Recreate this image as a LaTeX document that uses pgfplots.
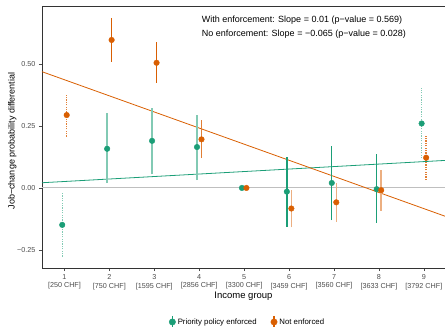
\documentclass[border=0pt]{standalone}
\usepackage{pgfplots}
\pgfplotsset{compat=1.18}
\usepackage{fontspec}
\setmainfont{Liberation Sans}
\definecolor{grn}{HTML}{1B9E77}
\definecolor{org}{HTML}{D95F02}
\colorlet{grnL}{grn!55!white}
\colorlet{orgL}{org!50!white}
\colorlet{orgM}{org!80!white}
\definecolor{tickgray}{HTML}{4D4D4D}
\begin{document}
\begin{tikzpicture}[x=1pt,y=1pt]
\useasboundingbox (0,0) rectangle (445,327);
\begin{axis}[
  at={(42pt,59pt)}, anchor=south west, scale only axis,
  width=403pt, height=262pt,
  xmin=0.5, xmax=9.47, ymin=-0.323, ymax=0.734,
  axis line style={draw=black!80, line width=0.9pt},
  unbounded coords=jump,
  clip=true,
  /pgf/number format/assume math mode=true,
  xtick={1,2,3,4,5,6,7,8,9},
  xticklabels={1\\{[250 CHF]},2\\{[750 CHF]},3\\{[1595 CHF]},4\\{[2856 CHF]},5\\{[3300 CHF]},6\\{[3459 CHF]},7\\{[3560 CHF]},8\\{[3633 CHF]},9\\{[3792 CHF]}},
  xticklabel style={align=center, font=\fontsize{7.2}{8.5}\selectfont, text=tickgray},
  ytick={-0.25,0,0.25,0.5},
  yticklabels={−0.25,0.00,0.25,0.50},
  yticklabel style={font=\fontsize{7.2}{8.5}\selectfont, text=tickgray},
  tick align=outside, major tick length=3pt,
  tick style={black!70, line width=0.6pt},
  xtick pos=bottom, ytick pos=left,
  xlabel={Income group},
  ylabel={Job−change probability differential},
  xlabel style={font=\fontsize{9.5}{11}\selectfont, at={(axis description cs:0.5,-0.107)}, anchor=center},
  ylabel style={font=\fontsize{9}{11}\selectfont, at={(axis description cs:-0.074,0.485)}, anchor=center},
  legend columns=2,
  legend style={draw=none, fill=none, at={(axis description cs:0.51,-0.206)}, anchor=center,
    font=\fontsize{7.8}{9}\selectfont, /tikz/every even column/.append style={column sep=12pt}},
  legend image code/.code={\draw[#1, line width=1.5pt] (0.1cm,-6pt) -- (0.1cm,6pt); \fill[#1] (0.1cm,0pt) circle (3.2pt);},
]
% zero line
\addplot[forget plot, black!25, line width=1pt] coordinates {(0.5,0) (9.47,0)};
% regression lines
\addplot[forget plot, grn, line width=0.8pt] coordinates {(0.5,0.021) (9.47,0.111)};
\addplot[forget plot, org, line width=0.8pt] coordinates {(0.5,0.469) (9.47,-0.114)};
% green error bars
\addplot[forget plot, grnL, line width=1.5pt] coordinates {
 (1.95,0.019) (1.95,0.301) (1.95,nan)
 (2.95,0.055) (2.95,0.324) (2.95,nan)
 (3.95,0.032) (3.95,0.294)};
\addplot[forget plot, grn, line width=1.4pt] coordinates {
 (5.95,-0.157) (5.95,0.124) (5.95,nan)
 (6.95,-0.130) (6.95,0.169) (6.95,nan)
 (7.95,-0.141) (7.95,0.136)};
\addplot[forget plot, grnL, line width=1.3pt, dash pattern=on 1.2pt off 1.2pt] coordinates {
 (0.95,-0.277) (0.95,-0.021) (0.95,nan)
 (8.95,0.120) (8.95,0.402)};
% orange error bars
\addplot[forget plot, org, line width=1.4pt] coordinates {
 (2.05,0.509) (2.05,0.684) (2.05,nan)
 (3.05,0.425) (3.05,0.589)};
\addplot[forget plot, orgM, line width=1.4pt] coordinates {
 (4.05,0.120) (4.05,0.274)};
\addplot[forget plot, orgL, line width=1.5pt] coordinates {
 (6.05,-0.159) (6.05,-0.008) (6.05,nan)
 (7.05,-0.136) (7.05,0.019) (7.05,nan)
 (8.05,-0.093) (8.05,0.073)};
\addplot[forget plot, orgM, line width=1.3pt, dash pattern=on 1.2pt off 1.2pt] coordinates {
 (1.05,0.207) (1.05,0.379) (1.05,nan)
 (9.05,0.032) (9.05,0.214)};
% points
\addplot[forget plot, only marks, mark=*, mark size=2.8pt, grn, mark options={draw=none, fill=grn}] coordinates {
 (0.95,-0.149) (1.95,0.158) (2.95,0.190) (3.95,0.165) (4.95,0) (5.95,-0.015) (6.95,0.020) (7.95,-0.005) (8.95,0.260)};
\addplot[forget plot, only marks, mark=*, mark size=2.8pt, org, mark options={draw=none, fill=org}] coordinates {
 (1.05,0.294) (2.05,0.597) (3.05,0.505) (4.05,0.196) (5.05,0) (6.05,-0.083) (7.05,-0.058) (8.05,-0.009) (9.05,0.122)};
\addlegendimage{grn, fill=grn}
\addlegendentry{Priority policy enforced}
\addlegendimage{org, fill=org}
\addlegendentry{Not enforced}
\node[anchor=west, font=\fontsize{9}{10}\selectfont] at (axis cs:3.98,0.677) {With enforcement: Slope = 0.01 (p−value = 0.569)};
\node[anchor=west, font=\fontsize{9}{10}\selectfont] at (axis cs:3.98,0.621) {No enforcement: Slope = −0.065 (p−value = 0.028)};
\end{axis}
\end{tikzpicture}
\end{document}
